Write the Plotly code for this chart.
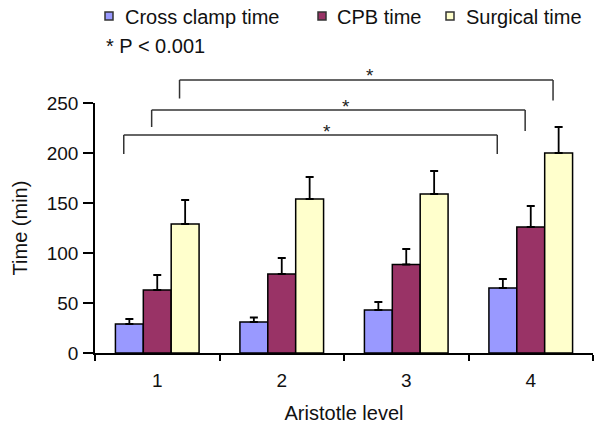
import plotly.graph_objects as go

# Aristotle levels (x categories)
levels = ["1", "2", "3", "4"]

series_names = ["Cross clamp time", "CPB time", "Surgical time"]
cross_clamp = [29, 31, 43, 65]
cross_clamp_err = [5, 4.5, 8, 9]
cpb = [63, 79, 88.5, 126]
cpb_err = [15, 16, 15.5, 21]
surgical = [129, 154, 159, 200]
surgical_err = [24, 22, 23, 26]

# significance brackets (level 1 vs level 4 for each series)
bracket_series = [0, 1, 2]
bracket_from = [0, 0, 0]
bracket_to = [3, 3, 3]
bracket_top = [218, 243, 273]
bracket_left_end = [199, 226, 254.5]
bracket_right_end = [199, 222, 252.5]
star_x = [1.36, 1.52, 1.71]

p_note = "* P < 0.001"

Y_MAX = 250
COLORS = ["#9999FF", "#993366", "#FFFFCC"]
FONT = "Liberation Sans, Arial, sans-serif"
BARGAP = 0.328

W, H = 602, 429
M_L, M_R, M_T, M_B = 95, 9, 103, 76
PLOT_W = W - M_L - M_R
PLOT_H = H - M_T - M_B


def paper_y(v):
    return v / Y_MAX


def px_x(px):
    # pixel x -> paper x
    return (px - M_L) / PLOT_W


def px_y(py):
    # pixel y -> paper y
    return (H - M_B - py) / PLOT_H


def create_figure():
    fig = go.Figure()
    values = [cross_clamp, cpb, surgical]
    errors = [cross_clamp_err, cpb_err, surgical_err]
    for name, vals, errs, color in zip(series_names, values, errors, COLORS):
        fig.add_trace(go.Bar(
            x=levels, y=vals, name=name,
            marker=dict(color=color, line=dict(color="black", width=1.5)),
            error_y=dict(type="data", symmetric=False, array=errs,
                         arrayminus=[0] * len(errs),
                         color="black", thickness=1.8, width=4),
            showlegend=False,
        ))
    return fig


def add_brackets(fig):
    bar_w = (1 - BARGAP) / len(series_names)
    shift = -0.045
    line = dict(color="#333333", width=1.5)
    for s, a, b, top, le, re, sx in zip(bracket_series, bracket_from, bracket_to,
                                         bracket_top, bracket_left_end,
                                         bracket_right_end, star_x):
        off = (s - 1) * bar_w + shift
        x0, x1 = a + off, b + off
        fig.add_shape(type="line", xref="x", yref="paper", x0=x0, x1=x0,
                      y0=paper_y(le), y1=paper_y(top), line=line)
        fig.add_shape(type="line", xref="x", yref="paper", x0=x0, x1=x1,
                      y0=paper_y(top), y1=paper_y(top), line=line)
        fig.add_shape(type="line", xref="x", yref="paper", x0=x1, x1=x1,
                      y0=paper_y(re), y1=paper_y(top), line=line)
        fig.add_annotation(x=sx, y=paper_y(top + 4), xref="x", yref="paper",
                           text="*", showarrow=False, yanchor="middle",
                           font=dict(size=19, color="#222222"))


def add_legend(fig):
    # hand-drawn legend row above the plot
    box_x = [105, 318, 446]
    text_x = [123, 335, 464]
    for name, color, bx, tx in zip(series_names, COLORS, box_x, text_x):
        fig.add_shape(type="rect", xref="paper", yref="paper",
                      x0=px_x(bx), x1=px_x(bx + 8),
                      y0=px_y(20), y1=px_y(12),
                      fillcolor=color, line=dict(color="#333333", width=1.5))
        fig.add_annotation(x=px_x(tx), y=px_y(17),
                           xref="paper", yref="paper", text=name,
                           showarrow=False, xanchor="left", yanchor="middle",
                           font=dict(size=20))
    fig.add_annotation(x=px_x(104), y=px_y(46),
                       xref="paper", yref="paper", text=p_note,
                       showarrow=False, xanchor="left", yanchor="middle",
                       font=dict(size=20))


def touch_up(fig):
    fig.update_layout(width=W, height=H,
                      margin=dict(l=M_L, r=M_R, t=M_T, b=M_B, autoexpand=False),
                      paper_bgcolor="white", plot_bgcolor="white",
                      barmode="group", bargap=BARGAP, bargroupgap=0,
                      font=dict(family=FONT, size=19, color="#111111"))
    fig.update_xaxes(type="category", tickson="boundaries", ticks="outside",
                     ticklen=6, tickwidth=1.5, tickcolor="black",
                     showline=True, linewidth=1.5, linecolor="black",
                     showgrid=False, ticklabelstandoff=9,
                     title=dict(text="Aristotle level", font=dict(size=20), standoff=16))
    fig.update_yaxes(range=[0, Y_MAX], dtick=50, ticks="outside", ticklen=10,
                     tickwidth=1.5, tickcolor="black",
                     showline=True, linewidth=1.5, linecolor="black",
                     showgrid=False, zeroline=False, ticklabelstandoff=1,
                     title=dict(text="Time (min)", font=dict(size=20), standoff=14))


fig = create_figure()
add_brackets(fig)
add_legend(fig)
touch_up(fig)
# drop the default body margin so the figure fills the window
fig.write_html("out.html", config={"displayModeBar": False},
               post_script="document.body.style.margin = '0';")
